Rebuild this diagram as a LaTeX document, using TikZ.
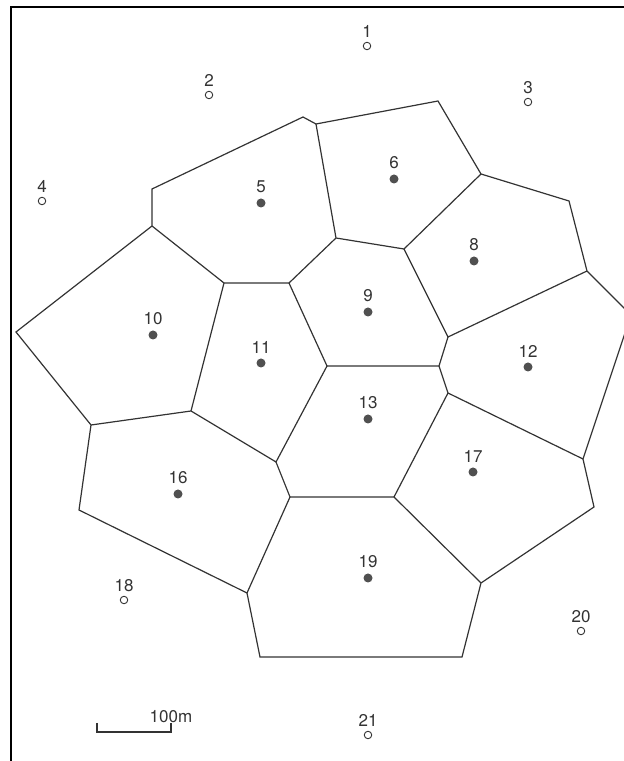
\documentclass[tikz,border=0pt]{standalone}
\usepackage{fontspec}
\setmainfont{TeX Gyre Heros}
\usepackage{xcolor}
\usetikzlibrary{positioning}

\definecolor{inkgray}{HTML}{333333}
\definecolor{dotgray}{HTML}{505050}

\tikzset{
    cell/.style={line width=1.2pt, draw=inkgray, line join=miter},
    site/.style={circle, fill=dotgray, inner sep=0pt, minimum size=9pt},
    outsite/.style={circle, draw=inkgray, line width=0.9pt, inner sep=0pt, minimum size=7.5pt},
    lab/.style={font=\fontsize{17}{17}\selectfont, text=inkgray, inner sep=0pt}
}

\begin{document}
\begin{tikzpicture}[x=1pt, y=1pt]
    \useasboundingbox (0,0) rectangle (624,761);
    \clip (0,0) rectangle (624,761);

    % 1. Khung
    \draw[line width=2pt, black] (624,754) -- (11,754) -- (11,0);

    % 2. Dinh cac o
    \coordinate (A) at (303,644);
    \coordinate (B) at (316,637);
    \coordinate (C) at (152,572);
    \coordinate (D) at (152,535);
    \coordinate (E) at (224,478);
    \coordinate (F) at (289,478);
    \coordinate (G) at (16,429);
    \coordinate (H) at (438,660);
    \coordinate (I) at (481,587);
    \coordinate (J) at (569,560);
    \coordinate (K) at (587,490);
    \coordinate (L) at (336,523);
    \coordinate (M) at (404,512);
    \coordinate (N) at (448,424);
    \coordinate (O) at (439,395);
    \coordinate (P) at (327,395);
    \coordinate (R) at (631,446);
    \coordinate (Q) at (583,302);
    \coordinate (S) at (91,336);
    \coordinate (T) at (191,350);
    \coordinate (U) at (276,299);
    \coordinate (V) at (290,264);
    \coordinate (W) at (79,251);
    \coordinate (X) at (247,168);
    \coordinate (Y) at (260,104);
    \coordinate (Z) at (448,368);
    \coordinate (AB) at (594,254);
    \coordinate (AC) at (481,178);
    \coordinate (AD) at (462,104);
    \coordinate (AE) at (394,264);

    % 3. Bien ngoai
    \draw[cell] (A) -- (B) -- (H) -- (I) -- (J) -- (K) -- (R) -- (Q) -- (AB)
        -- (AC) -- (AD) -- (Y) -- (X) -- (W) -- (S) -- (G) -- (D) -- (C) -- cycle;

    % 4. Canh ben trong
    \draw[cell] (B) -- (L) -- (M) -- (I);
    \draw[cell] (D) -- (E) -- (F) -- (L);
    \draw[cell] (M) -- (N) -- (K);
    \draw[cell] (E) -- (T) -- (S);
    \draw[cell] (F) -- (P) -- (U) -- (T);
    \draw[cell] (N) -- (O) -- (P);
    \draw[cell] (O) -- (Z) -- (Q);
    \draw[cell] (U) -- (V) -- (X);
    \draw[cell] (Z) -- (AE) -- (V);
    \draw[cell] (AE) -- (AC);

    % 5. Diem ben trong (cham dac)
    \node[site] (p5) at (261,558) {};
    \node[site] (p6) at (394,582) {};
    \node[site] (p8) at (474,500) {};
    \node[site] (p9) at (368,449) {};
    \node[site] (p10) at (153,426) {};
    \node[site] (p11) at (261,398) {};
    \node[site] (p12) at (528,394) {};
    \node[site] (p13) at (368,342) {};
    \node[site] (p16) at (178,267) {};
    \node[site] (p17) at (473,289) {};
    \node[site] (p19) at (368,183) {};
    \node[lab, above=5pt of p5] (t5) {5};
    \node[lab, above=5pt of p6] (t6) {6};
    \node[lab, above=5pt of p8] (t8) {8};
    \node[lab, above=5pt of p9] (t9) {9};
    \node[lab, above=5pt of p10] (t10) {10};
    \node[lab, above=5pt of p11] (t11) {11};
    \node[lab, above=5pt of p12] (t12) {12};
    \node[lab, above=5pt of p13] (t13) {13};
    \node[lab, above=5pt of p16] (t16) {16};
    \node[lab, above=5pt of p17] (t17) {17};
    \node[lab, above=5pt of p19] (t19) {19};

    % 6. Diem ben ngoai (vong tron rong)
    \node[outsite] (p1) at (367,715) {};
    \node[outsite] (p2) at (209,666) {};
    \node[outsite] (p3) at (528,659) {};
    \node[outsite] (p4) at (42,560) {};
    \node[outsite] (p18) at (124,161) {};
    \node[outsite] (p20) at (581,130) {};
    \node[outsite] (p21) at (368,26) {};
    \node[lab, above=4pt of p1] (t1) {1};
    \node[lab, above=4pt of p2] (t2) {2};
    \node[lab, above=4pt of p3] (t3) {3};
    \node[lab, above=4pt of p4] (t4) {4};
    \node[lab, above=4pt of p18] (t18) {18};
    \node[lab, above=4pt of p20] (t20) {20};
    \node[lab, above=4pt of p21] (t21) {21};

    % 7. Thuoc ti le
    \node[lab, anchor=south] (bar) at (171,38) {100m};
    \draw[line width=1.2pt, inkgray] (97,38) -- (97,29) -- (171,29) -- (bar.south);
\end{tikzpicture}
\end{document}
